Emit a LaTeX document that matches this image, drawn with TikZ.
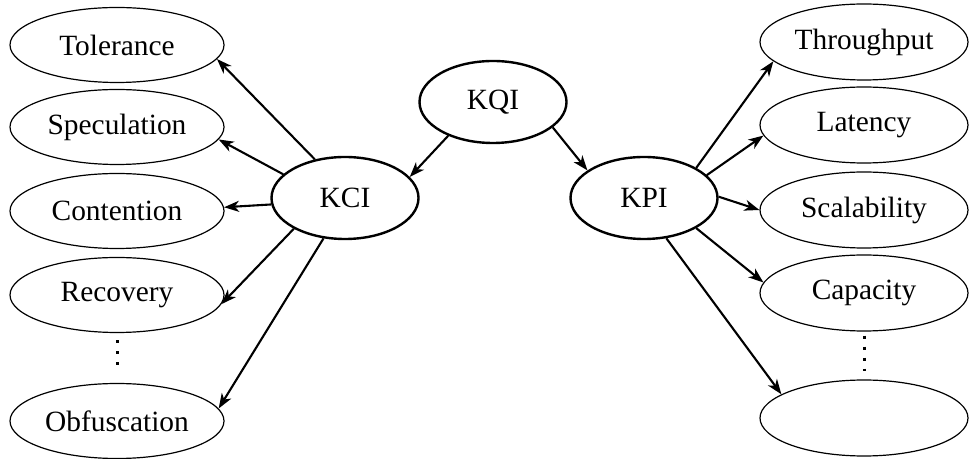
\documentclass[tikz,border=0pt]{standalone}
\usepackage{fontspec}
\setmainfont{Liberation Serif}
\usetikzlibrary{shapes.geometric, arrows.meta}

\begin{document}
\begin{tikzpicture}[
    x=0.5pt, y=-0.5pt,
    every node/.style={font=\fontsize{14.7}{17}\selectfont, inner sep=0pt},
    outer_left/.style={ellipse, draw=black, line width=0.6pt, minimum width=107pt, minimum height=37.5pt},
    outer_right/.style={ellipse, draw=black, line width=0.6pt, minimum width=104pt, minimum height=38pt},
    indicator/.style={ellipse, draw=black, line width=1.2pt, minimum width=73.5pt, minimum height=41pt},
    arrow_metric/.style={-{Stealth[length=7.5pt, width=5.5pt, inset=2.2pt]}, line width=1.05pt},
    dot_column/.style={line width=1.5pt, dash pattern=on 1.5pt off 4pt},
    ]

\useasboundingbox (0,0) rectangle (969,459);

\node[indicator] (kqi) at (493,102) {KQI};
\node[indicator] (kci) at (345,198) {KCI};
\node[indicator] (kpi) at (644,198) {KPI};

\node[outer_left] (tol) at (117,45) {Tolerance};
\node[outer_left] (spec) at (117,127) {Speculation};
\node[outer_left] (cont) at (117,211) {Contention};
\node[outer_left] (rec) at (117,295) {Recovery};
\node[outer_left] (obf) at (117,421) {Obfuscation};

\node[outer_right] (thr) at (864,42) {Throughput};
\node[outer_right] (lat) at (864,125) {Latency};
\node[outer_right] (scal) at (864,210) {Scalability};
\node[outer_right] (cap) at (864,293) {Capacity};
\node[outer_right] (more) at (864,418) {};

\draw[arrow_metric] (kqi.217) -- (kci.18);
\draw[arrow_metric] (kqi.-23) -- (kpi.154);

% KCI side
\draw[arrow_metric] (kci.128) -- (tol.-8);
\draw[arrow_metric] (kci.159) -- (spec.-7);
\draw[arrow_metric] (kci.185) -- (cont.2);
\draw[arrow_metric] (kci.211) -- (rec.-5);
\draw[arrow_metric] (kci.242) -- (obf.7);

% KPI side
\draw[arrow_metric] (kpi.30) -- (thr.192);
\draw[arrow_metric] (kpi.20) -- (lat.186);
\draw[arrow_metric] (kpi.1) -- (scal.180);
\draw[arrow_metric] (kpi.-30) -- (cap.174);
\draw[arrow_metric] (kpi.-61) -- (more.164);

\draw[dot_column] ([yshift=-3.5pt]rec.south) -- ([yshift=5pt]obf.north);
\draw[dot_column] ([yshift=-2pt]cap.south) -- ([yshift=4pt]more.north);

\end{tikzpicture}
\end{document}
